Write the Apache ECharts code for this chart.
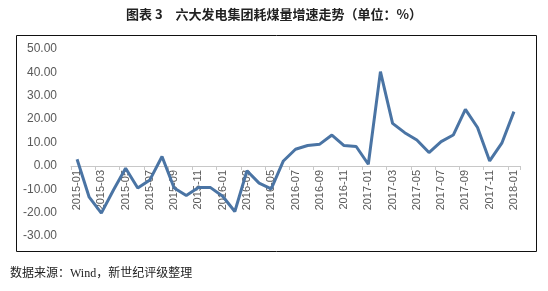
<!DOCTYPE html>
<html><head><meta charset="utf-8">
<script src="https://cdn.jsdelivr.net/npm/echarts@6/dist/echarts.min.js"></script>
<style>html,body{margin:0;padding:0;background:#fff}#c{width:548px;height:291px}</style>
</head><body><div id="c"></div>
<script>
const titleText = '图表 3　六大发电集团耗煤量增速走势（单位：%）';
const sourceText = '数据来源：Wind，新世纪评级整理';
const months = ['2015-01','2015-02','2015-03','2015-04','2015-05','2015-06','2015-07','2015-08','2015-09','2015-10','2015-11','2015-12',
 '2016-01','2016-02','2016-03','2016-04','2016-05','2016-06','2016-07','2016-08','2016-09','2016-10','2016-11','2016-12',
 '2017-01','2017-02','2017-03','2017-04','2017-05','2017-06','2017-07','2017-08','2017-09','2017-10','2017-11','2017-12','2018-01'];
const growth = [2.8,-13.4,-20.2,-10.3,-1.0,-9.5,-6.0,4.0,-9.5,-12.7,-9.3,-9.3,
 -13.0,-19.5,-2.1,-7.4,-9.8,2.1,7.1,8.7,9.3,13.2,8.7,8.3,
 0.7,40.3,18.2,14.2,11.1,5.7,10.4,13.2,24.2,16.4,2.1,9.7,23.2];
const yMin = -30, yMax = 50, yStep = 10;

const chart = echarts.init(document.getElementById('c'), null, {renderer:'canvas'});
chart.setOption({
  animation:false,
  backgroundColor:'#fff',
  title:{text:titleText,left:'center',top:3,textStyle:{fontSize:13,fontWeight:'bold',color:'#222',fontFamily:'Noto Sans CJK SC'}},
  graphic:[
    {type:'rect',shape:{x:16.5,y:35.5,width:520,height:216},style:{fill:'none',stroke:'#111',lineWidth:1}},
    {type:'text',left:10,top:268,style:{text:sourceText,fontSize:12,fill:'#222',fontFamily:'Liberation Serif, Noto Sans CJK SC'}}
  ],
  grid:{left:71,right:28,top:49,bottom:55},
  xAxis:{type:'category',data:months,boundaryGap:true,position:'bottom',offset:-70,
    axisLine:{onZero:false,lineStyle:{color:'#c8c8c8',width:1}},
    axisTick:{show:true,interval:1,length:4,lineStyle:{color:'#c8c8c8'}},
    axisLabel:{interval:1,rotate:90,fontSize:11,color:'#595959',margin:4,fontFamily:'Liberation Sans'}},
  yAxis:{type:'value',min:yMin,max:yMax,interval:yStep,
    axisLine:{show:false},axisTick:{show:false},splitLine:{show:false},
    axisLabel:{formatter:v=>v.toFixed(2),fontSize:12,color:'#595959',margin:14,fontFamily:'Liberation Sans'}},
  series:[{type:'line',data:growth,symbol:'none',lineStyle:{color:'#4a74a4',width:3}}]
});
</script></body></html>
